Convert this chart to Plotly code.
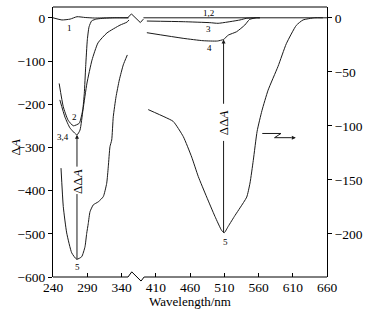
import plotly.graph_objects as go

# ---------------- data (wavelength in nm, ΔA values) ----------------
# Left section: 240-350 nm, left axis (ΔA)
c1_left_x = [240, 253, 265, 275, 287, 301, 320, 338, 350]
c1_left_y = [0, -5, -3, 2.5, 0.7, -0.5, 0, 0, 0]

c2_left_x = [249, 255, 262, 269.6, 278.4, 283.4, 285.7, 287.7, 290.1, 292.6, 296.5, 303.8, 315, 330, 350]
c2_left_y = [-152, -206, -237, -250, -244, -213, -175, -113, -51, -21, -7, -2.8, -1, 0, 0]

c34_left_x = [250, 257.5, 264.8, 275, 279.4, 283.8, 289.6, 296.9, 305.7, 318.8, 337.8, 348, 351]
c34_left_y = [-190, -230, -255, -271, -260, -213, -151, -98, -58, -35, -17, -10, -5]

c5_left_x = [251.7, 255, 260, 267.3, 274.6, 281.9, 286.7, 289.2, 291.5, 294, 298.8, 306.1, 313.4,
             318.4, 320.7, 323.2, 325.7, 328, 332, 336.8, 342.6, 348.5]
c5_left_y = [-348, -437, -498, -544, -559, -553, -530, -499, -476, -449, -433, -426, -414,
             -383, -345, -298, -283, -229, -183, -144, -109, -86]

# Right section: 392-660 nm, right axis (ΔΔA scale)
c12_right_x = [392, 660]
c12_right_y = [0, 0]

c3_right_x = [397, 450, 489, 501, 533, 542, 555, 562]
c3_right_y = [-3, -3.6, -4.5, -5.1, -2, -0.5, 0, 0]

c4_right_x = [397, 450, 479, 500, 509, 516, 528, 540, 547, 557, 562]
c4_right_y = [-13.8, -19, -21.2, -21.5, -20, -16, -12.9, -6.7, -1.5, 0, 0]

c5_right_x = [399, 423.5, 435.6, 450.2, 462.5, 472.1, 484.4, 496.5, 506.3, 510, 515.9, 525.7, 533,
              542.8, 547.6, 552.4, 558, 565, 574, 588.5, 600.6, 615.2, 625, 642, 654]
c5_right_y = [-85, -92, -96, -110, -129, -147, -166, -184, -197, -199, -193, -183, -176,
              -166, -153, -132, -105, -86, -67, -45, -24, -7, -2, 0, 0]

x_tick_vals = [240, 290, 340, 410, 460, 510, 560, 610, 660]
y_left_ticks = [0, -100, -200, -300, -400, -500, -600]
y_right_ticks = [0, -50, -100, -150, -200]

# ---------------- style ----------------
GAP = 20  # axis break: 340 -> 410 occupies one 50-nm slot
FONT = "Liberation Serif"
LC = "#1a1a1a"


def right_pos(xs):
    return [x - GAP for x in xs]


def tick_pos(v):
    return v if v <= 340 else v - GAP


fig = go.Figure()


def add(xs, ys, axis="y"):
    fig.add_trace(go.Scatter(x=xs, y=ys, mode="lines", yaxis=axis,
                             line=dict(color=LC, width=1, shape="spline", smoothing=0.5),
                             showlegend=False, hoverinfo="skip"))


add(c1_left_x, c1_left_y)
add(c2_left_x, c2_left_y)
add(c34_left_x, c34_left_y)
add(c5_left_x, c5_left_y)
add(right_pos(c12_right_x), c12_right_y, "y2")
add(right_pos(c3_right_x), c3_right_y, "y2")
add(right_pos(c4_right_x), c4_right_y, "y2")
add(right_pos(c5_right_x), c5_right_y, "y2")

tick_font = dict(family=FONT, size=13.5, color="black")

fig.update_layout(
    width=366, height=314,
    margin=dict(l=53, r=39, t=7, b=37, autoexpand=False),
    paper_bgcolor="white", plot_bgcolor="white",
    xaxis=dict(range=[240, 640], tickvals=[tick_pos(v) for v in x_tick_vals],
               ticktext=[str(v) for v in x_tick_vals], ticks="inside", ticklen=4,
               tickcolor="black", showline=False, showgrid=False, zeroline=False,
               tickfont=tick_font, automargin=False),
    yaxis=dict(range=[-600, 25], tickvals=y_left_ticks, ticks="outside", ticklen=4,
               tickcolor="black", showline=True, linecolor="black", linewidth=1,
               showgrid=False, zeroline=False, tickfont=tick_font, automargin=False),
    yaxis2=dict(range=[-240, 10], tickvals=y_right_ticks, ticks="outside", ticklen=4,
                tickcolor="black", showline=True, linecolor="black", linewidth=1,
                overlaying="y", side="right", showgrid=False, zeroline=False,
                tickfont=tick_font, automargin=False),
)

# frame: top border and broken bottom axis
fig.add_shape(type="line", xref="paper", yref="paper", x0=0, x1=1, y0=1, y1=1,
              line=dict(color="black", width=1))
fig.add_shape(type="path", xref="x", yref="paper",
              path="M 240,0 L 349.5,0 L 355,0.019 L 368.5,-0.015 L 373,0 L 640,0",
              line=dict(color="black", width=1))
# zigzag break on the zero line
fig.add_shape(type="path", xref="x", yref="y",
              path="M 349,0 L 354.5,9 L 367.5,-11 L 372,-3",
              line=dict(color=LC, width=1))

# ΔΔA markers (left)
fig.add_annotation(x=275, y=-271, ax=275, ay=-348, xref="x", yref="y", axref="x", ayref="y",
                   text="", showarrow=True, arrowhead=2, arrowsize=0.8, arrowwidth=1,
                   arrowcolor=LC)
fig.add_shape(type="line", xref="x", yref="y", x0=275, x1=275, y0=-408, y1=-559,
              line=dict(color=LC, width=1))
fig.add_annotation(x=275, y=-378, xref="x", yref="y", text="ΔΔ<i>A</i>", showarrow=False,
                   textangle=-90, font=dict(family=FONT, size=13, color="black"))

# ΔΔA markers (right)
fig.add_annotation(x=509 - GAP, y=-20, ax=509 - GAP, ay=-81, xref="x", yref="y2",
                   axref="x", ayref="y2", text="", showarrow=True, arrowhead=2,
                   arrowsize=0.8, arrowwidth=1, arrowcolor=LC)
fig.add_shape(type="line", xref="x", yref="y2", x0=509 - GAP, x1=509 - GAP, y0=-114, y1=-199,
              line=dict(color=LC, width=1))
fig.add_annotation(x=509 - GAP, y=-97, xref="x", yref="y2", text="ΔΔ<i>A</i>", showarrow=False,
                   textangle=-90, font=dict(family=FONT, size=13, color="black"))

# arrow pointing to right axis
fig.add_shape(type="path", xref="x", yref="y2",
              path="M 545.5,-107.1 L 572.8,-107.1 L 563.4,-111 L 588,-111",
              line=dict(color=LC, width=1))
fig.add_annotation(x=594.5, y=-111, ax=586, ay=-111, xref="x", yref="y2", axref="x", ayref="y2",
                   text="", showarrow=True, arrowhead=2, arrowsize=0.8, arrowwidth=1,
                   arrowcolor=LC)

# curve labels
small = dict(family=FONT, size=9, color="black")
for x, y, t, ax in [(263.4, -24, "1", "y"), (270.7, -230, "2", "y"), (255, -277, "3,4", "y"),
                    (276, -577, "5", "y"),
                    (486.7 - GAP, 4.7, "1,2", "y2"), (486.7 - GAP, -10.4, "3", "y2"),
                    (488.2 - GAP, -28.2, "4", "y2"), (511.5 - GAP, -208, "5", "y2")]:
    fig.add_annotation(x=x, y=y, xref="x", yref=ax, text=t, showarrow=False, font=small)

# axis titles
fig.add_annotation(x=-0.1715, y=0.478, xref="paper", yref="paper", text="Δ<i>A</i>",
                   showarrow=False, textangle=-90, font=dict(family=FONT, size=13, color="black"))
fig.add_annotation(x=0.5, y=-0.091, xref="paper", yref="paper", text="Wavelength/nm",
                   showarrow=False, yanchor="middle", font=dict(family=FONT, size=13, color="black"))

fig.write_html("out.html", config={"displayModeBar": False},
               post_script="document.body.style.margin='0';document.body.style.overflow='hidden';")
